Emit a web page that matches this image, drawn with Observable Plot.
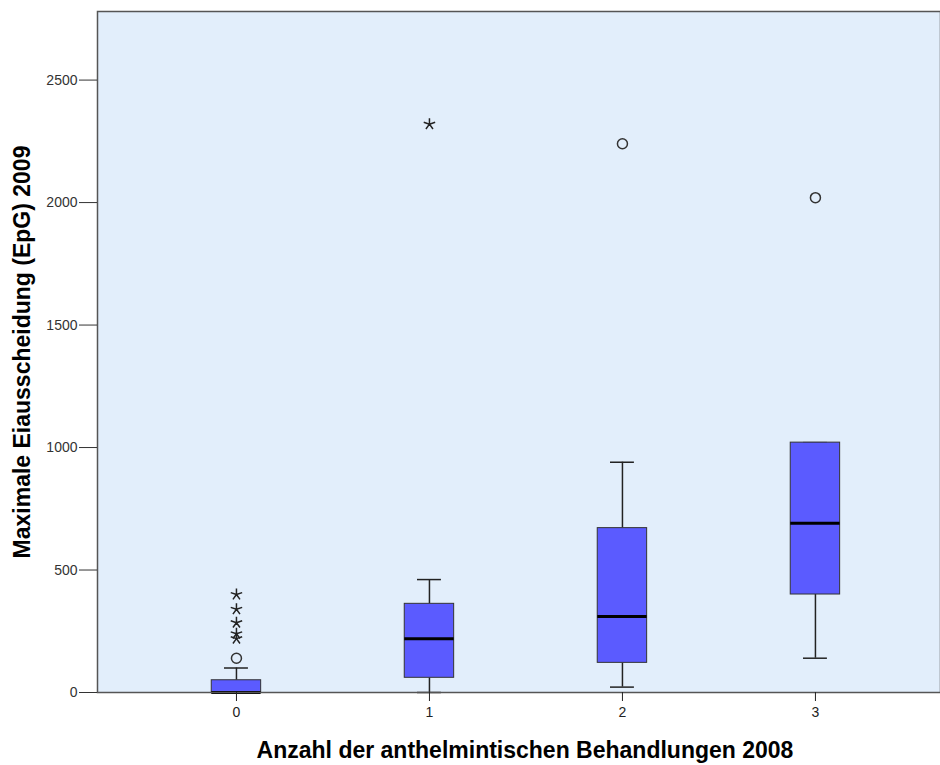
<!DOCTYPE html>
<html><head><meta charset="utf-8">
<script src="https://cdn.jsdelivr.net/npm/d3@7"></script>
<script src="https://cdn.jsdelivr.net/npm/@observablehq/plot@0.6"></script>
<style>body{margin:0;background:#fff;}</style>
</head><body><div id="chart"></div>
<script>
// ---- data ----
const categories  = [0, 1, 2, 3];
const whiskerLow  = [0, 0, 22, 140];
const q1          = [0, 60, 121, 400];
const median      = [0, 219, 310, 691];
const q3          = [50, 362, 671, 1020];
const whiskerHigh = [100, 461, 940, 1020];
const circleGroup = [0, 2, 3];
const circleValue = [140, 2240, 2020];
const starGroup   = [0, 0, 0, 0, 0, 1];
const starValue   = [400, 340, 285, 240, 220, 2320];
const yTicks      = [0, 500, 1000, 1500, 2000, 2500];
const xTicks      = [0, 1, 2, 3];
const xTitle = "Anzahl der anthelmintischen Behandlungen 2008";
const yTitle = "Maximale Eiausscheidung (EpG) 2009";

const boxes = categories.map((c, i) => ({cat: c, lo: whiskerLow[i], q1: q1[i], med: median[i], q3: q3[i], hi: whiskerHigh[i]}));
const circles = circleGroup.map((g, i) => ({cat: g, v: circleValue[i]}));
const stars = starGroup.map((g, i) => ({cat: g, v: starValue[i]}));

const boxHalf = 0.128, capHalf = 0.062;
const starSymbol = {
  draw(ctx, size) {
    const r = Math.sqrt(size / Math.PI);
    for (let k = 0; k < 5; k++) {
      const a = -Math.PI / 2 + k * 2 * Math.PI / 5;
      ctx.moveTo(0, 0);
      ctx.lineTo(r * Math.cos(a), r * Math.sin(a));
    }
  }
};

const chart = Plot.plot({
  width: 940, height: 765,
  marginLeft: 97, marginRight: 0, marginTop: 11, marginBottom: 73,
  style: {fontFamily: "'Liberation Sans', Arial, sans-serif", background: "#fff"},
  x: {type: "linear", domain: [-0.72, 3.648]},
  y: {domain: [0, 2780]},
  marks: [
    Plot.frame({fill: "#e2eefb", stroke: null}),
    Plot.ruleX(boxes, {x: "cat", y1: "lo", y2: "q1", stroke: "#222", strokeWidth: 1.5}),
    Plot.ruleX(boxes, {x: "cat", y1: "q3", y2: "hi", stroke: "#222", strokeWidth: 1.5}),
    Plot.ruleY(boxes, {y: "lo", x1: d => d.cat - capHalf, x2: d => d.cat + capHalf, stroke: "#222", strokeWidth: 1.5}),
    Plot.ruleY(boxes, {y: "hi", x1: d => d.cat - capHalf, x2: d => d.cat + capHalf, stroke: "#222", strokeWidth: 1.5}),
    Plot.rect(boxes, {x1: d => d.cat - boxHalf, x2: d => d.cat + boxHalf, y1: "q1", y2: "q3", fill: "#5b5bff", stroke: "#333", strokeWidth: 1}),
    Plot.ruleY(boxes, {y: "med", x1: d => d.cat - boxHalf, x2: d => d.cat + boxHalf, stroke: "#000", strokeWidth: 3}),
    Plot.dot(circles, {x: "cat", y: "v", r: 5, stroke: "#333", strokeWidth: 1.5, fill: "none"}),
    Plot.dot(stars, {x: "cat", y: "v", r: 6, symbol: starSymbol, stroke: "#222", strokeWidth: 1.5, fill: "none"}),
    Plot.frame({stroke: "#555", strokeWidth: 1.5}),
    Plot.axisY({ticks: yTicks, tickFormat: d => String(d), tickSize: 18, tickPadding: 2, fontSize: 14, label: null, color: "#333"}),
    Plot.axisX({ticks: xTicks, tickFormat: d => String(d), tickSize: 9, tickPadding: 6, fontSize: 14, label: null, color: "#222"}),
    Plot.text([xTitle], {frameAnchor: "bottom", dx: 6, dy: 58, lineAnchor: "middle", fontSize: 23, fontWeight: "bold", fill: "#000"}),
    Plot.text([yTitle], {frameAnchor: "left", dx: -75, rotate: -90, lineAnchor: "middle", textAnchor: "middle", fontSize: 23, fontWeight: "bold", fill: "#000"})
  ]
});
document.getElementById("chart").append(chart);
</script>
</body></html>
